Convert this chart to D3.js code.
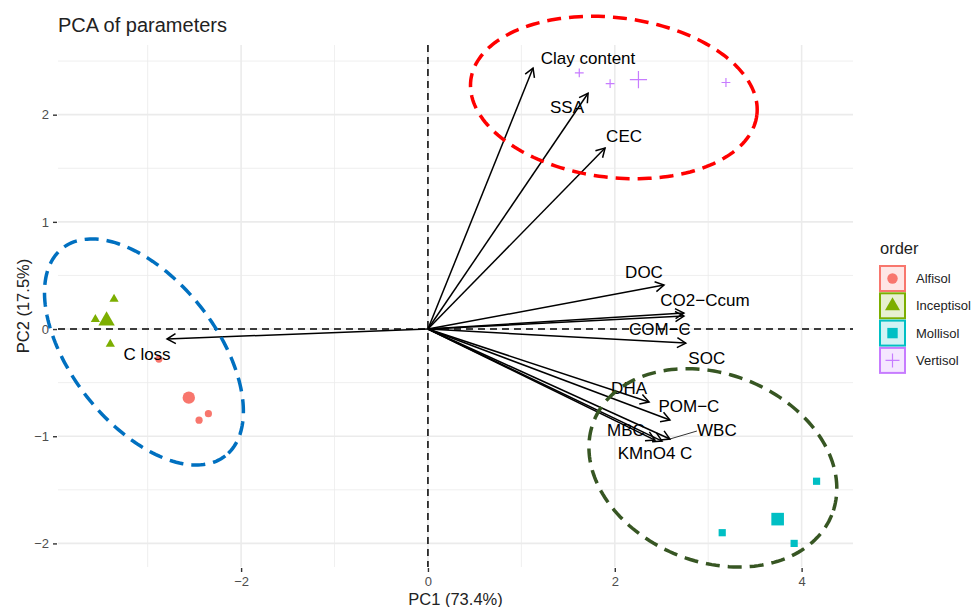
<!DOCTYPE html>
<html>
<head>
<meta charset="utf-8">
<script src="https://cdn.jsdelivr.net/npm/d3@7"></script>
<style>
  body { margin: 0; background: #fff; }
  text { font-family: "Liberation Sans", Arial, Helvetica, sans-serif; }
</style>
</head>
<body>
<svg id="chart" width="974" height="607"></svg>
<script>
// ---- soil orders ----
const orders = ["Alfisol", "Inceptisol", "Mollisol", "Vertisol"];
const orderColors = ["#F8766D", "#7CAE00", "#00BFC4", "#C77CFF"];

// ---- individual scores (PC1, PC2) ----
const sampleOrder = ["Alfisol", "Alfisol", "Alfisol",
                     "Inceptisol", "Inceptisol", "Inceptisol",
                     "Mollisol", "Mollisol", "Mollisol",
                     "Vertisol", "Vertisol", "Vertisol"];
const samplePC1 = [-2.88, -2.35, -2.45, -3.36, -3.56, -3.40, 4.16, 3.15, 3.92, 1.62, 1.95, 3.19];
const samplePC2 = [-0.28, -0.79, -0.85, 0.28, 0.09, -0.14, -1.42, -1.90, -2.00, 2.39, 2.29, 2.30];

// ---- variable loadings (arrow tips) ----
const varNames = ["Clay content", "SSA", "CEC", "DOC", "CO2\u2212Ccum", "COM\u2212C", "SOC",
                  "DHA", "POM\u2212C", "MBC", "WBC", "KMnO4 C", "C loss"];
const varPC1 = [1.125, 1.714, 1.896, 2.527, 2.74, 2.74, 2.76, 2.367, 2.59, 2.43, 2.59, 2.506, -2.793];
const varPC2 = [2.435, 2.20, 1.689, 0.41, 0.149, 0.121, -0.131, -0.681, -0.849, -1.036, -1.026, -1.045, -0.093];

// ---- axes ----
const xTicks = [-2, 0, 2, 4];
const yTicks = [-2, -1, 0, 1, 2];
const xMinor = [-3, -1, 1, 3];
const yMinor = [-1.5, -0.5, 0.5, 1.5, 2.5];
const xLabel = "PC1 (73.4%)";
const yLabel = "PC2 (17.5%)";
const chartTitle = "PCA of parameters";
const legendTitle = "order";

// ---- highlighted clusters (centre and two half-axis vectors, in PC units) ----
const clusterColors = ["#FF0000", "#0070C0", "#375623"];
const clusterCentres = [[1.99, 2.16], [-3.04, -0.214], [3.05, -1.295]];
const clusterAxisU = [[1.531, -0.163], [0.871, -0.969], [1.272, -0.441]];
const clusterAxisV = [[-0.104, -0.740], [-0.612, -0.416], [-0.377, -0.813]];

// label placement (pixel offsets from the arrow tip, repelled layout)
const labelOffsets = {
  "Clay content": [55, -10], "SSA": [-21, 14], "CEC": [19, -12], "DOC": [-20, -13],
  "CO2\u2212Ccum": [21, -13], "COM\u2212C": [-24, 13], "SOC": [21, 15], "DHA": [-20, -14],
  "POM\u2212C": [19, -14], "MBC": [-29, -10], "WBC": [47, -9], "KMnO4 C": [-7, 12],
  "C loss": [-20, 15]
};
const leaderLines = { "WBC": [27, -8] };

// ---------------------------------------------------------------
const svg = d3.select("#chart");
const panel = { left: 58, right: 853, top: 45, bottom: 567 };

const x = d3.scaleLinear().domain([-3.96, 4.55]).range([panel.left, panel.right]);
const y = d3.scaleLinear().domain([-2.22, 2.65]).range([panel.bottom, panel.top]);
const color = d3.scaleOrdinal().domain(orders).range(orderColors);

// grid
const grid = svg.append("g");
grid.selectAll(".vminor").data(xMinor).join("line")
  .attr("x1", d => x(d)).attr("x2", d => x(d)).attr("y1", panel.top).attr("y2", panel.bottom)
  .attr("stroke", "#ebebeb").attr("stroke-width", 0.8);
grid.selectAll(".hminor").data(yMinor).join("line")
  .attr("y1", d => y(d)).attr("y2", d => y(d)).attr("x1", panel.left).attr("x2", panel.right)
  .attr("stroke", "#ebebeb").attr("stroke-width", 0.8);
grid.selectAll(".vmajor").data(xTicks).join("line")
  .attr("x1", d => x(d)).attr("x2", d => x(d)).attr("y1", panel.top).attr("y2", panel.bottom)
  .attr("stroke", "#ebebeb").attr("stroke-width", 1.6);
grid.selectAll(".hmajor").data(yTicks).join("line")
  .attr("y1", d => y(d)).attr("y2", d => y(d)).attr("x1", panel.left).attr("x2", panel.right)
  .attr("stroke", "#ebebeb").attr("stroke-width", 1.6);

// axes
const fmt = d3.format("d");
const xAxis = d3.axisBottom(x).tickValues(xTicks).tickFormat(fmt).tickSizeOuter(0).tickSize(4).tickPadding(5);
const yAxis = d3.axisLeft(y).tickValues(yTicks).tickFormat(fmt).tickSizeOuter(0).tickSize(4).tickPadding(4);
const gx = svg.append("g").attr("transform", `translate(0,${panel.bottom + 1})`).call(xAxis);
const gy = svg.append("g").attr("transform", `translate(${panel.left - 1},0)`).call(yAxis);
[gx, gy].forEach(g => {
  g.select(".domain").remove();
  g.selectAll(".tick line").attr("stroke", "#333").attr("stroke-width", 1.4);
  g.selectAll(".tick text").attr("fill", "#4d4d4d").attr("font-size", 13)
    .attr("font-family", "Liberation Sans, Arial, sans-serif");
});

// reference lines through the origin
svg.append("line")
  .attr("x1", x(0)).attr("x2", x(0)).attr("y1", panel.top).attr("y2", panel.bottom)
  .attr("stroke", "#000").attr("stroke-width", 1.5).attr("stroke-dasharray", "7,5");
svg.append("line")
  .attr("x1", panel.left).attr("x2", panel.right).attr("y1", y(0)).attr("y2", y(0))
  .attr("stroke", "#000").attr("stroke-width", 1.5).attr("stroke-dasharray", "7,5");

// individuals
const samples = sampleOrder.map((o, i) => ({ order: o, pc1: samplePC1[i], pc2: samplePC2[i] }));
const means = orders.map(o => {
  const s = samples.filter(d => d.order === o);
  return { order: o, pc1: d3.mean(s, d => d.pc1), pc2: d3.mean(s, d => d.pc2), mean: true };
});

function drawShape(g, order, size) {
  const c = color(order);
  if (order === "Vertisol") {
    const h = size;
    g.append("path").attr("d", `M${-h},0H${h}M0,${-h}V${h}`)
      .attr("stroke", c).attr("stroke-width", 1.2).attr("fill", "none");
  } else {
    const type = order === "Alfisol" ? d3.symbolCircle
      : order === "Inceptisol" ? d3.symbolTriangle : d3.symbolSquare;
    let area;
    if (order === "Alfisol") area = Math.PI * size * size;
    else if (order === "Inceptisol") area = (2 * size) * (2 * size) * Math.sqrt(3) / 4;
    else area = (2 * size) * (2 * size);
    g.append("path").attr("d", d3.symbol().type(type).size(area)()).attr("fill", c);
  }
}
const smallSize = { Alfisol: 3.6, Inceptisol: 4.6, Mollisol: 3.6, Vertisol: 4.4 };
const bigSize = { Alfisol: 6.2, Inceptisol: 8.2, Mollisol: 6.3, Vertisol: 8.6 };

const pts = svg.append("g");
samples.concat(means).forEach(d => {
  const g = pts.append("g").attr("transform", `translate(${x(d.pc1)},${y(d.pc2)})`);
  drawShape(g, d.order, d.mean ? bigSize[d.order] : smallSize[d.order]);
});

// variable arrows
const vars = varNames.map((n, i) => ({ name: n, pc1: varPC1[i], pc2: varPC2[i] }));
const arrows = svg.append("g");
vars.forEach(d => {
  const x0 = x(0), y0 = y(0), x1 = x(d.pc1), y1 = y(d.pc2);
  arrows.append("line").attr("x1", x0).attr("y1", y0).attr("x2", x1).attr("y2", y1)
    .attr("stroke", "#000").attr("stroke-width", 1.5);
  const ang = Math.atan2(y1 - y0, x1 - x0);
  const L = 10, spread = Math.PI / 6;
  const ax = x1 - L * Math.cos(ang - spread), ay = y1 - L * Math.sin(ang - spread);
  const bx = x1 - L * Math.cos(ang + spread), by = y1 - L * Math.sin(ang + spread);
  arrows.append("path").attr("d", `M${ax},${ay}L${x1},${y1}L${bx},${by}`)
    .attr("stroke", "#000").attr("stroke-width", 1.5).attr("fill", "none");
});

// variable labels
const labels = svg.append("g");
vars.forEach(d => {
  const tx = x(d.pc1), ty = y(d.pc2);
  const off = labelOffsets[d.name];
  if (leaderLines[d.name]) {
    const l = leaderLines[d.name];
    labels.append("line").attr("x1", tx).attr("y1", ty).attr("x2", tx + l[0]).attr("y2", ty + l[1])
      .attr("stroke", "#000").attr("stroke-width", 0.8);
  }
  labels.append("text").attr("x", tx + off[0]).attr("y", ty + off[1]).attr("dy", "0.36em")
    .attr("text-anchor", "middle").attr("font-size", 17).attr("fill", "#000").text(d.name);
});

// cluster outlines
const ell = svg.append("g");
clusterCentres.forEach((c, i) => {
  const u = clusterAxisU[i], v = clusterAxisV[i];
  const ts = d3.range(0, 2 * Math.PI + 0.001, Math.PI / 90);
  const line = d3.line().x(t => x(c[0] + u[0] * Math.cos(t) + v[0] * Math.sin(t)))
                        .y(t => y(c[1] + u[1] * Math.cos(t) + v[1] * Math.sin(t)))
                        .curve(d3.curveLinearClosed);
  ell.append("path").attr("d", line(ts)).attr("fill", "none")
    .attr("stroke", clusterColors[i]).attr("stroke-width", 3.5).attr("stroke-dasharray", "14,8");
});

// title and axis titles
svg.append("text").attr("x", 58).attr("y", 32).attr("font-size", 20).attr("fill", "#222").text(chartTitle);
svg.append("text").attr("x", (panel.left + panel.right) / 2).attr("y", 605)
  .attr("text-anchor", "middle").attr("font-size", 16.5).attr("fill", "#222").text(xLabel);
svg.append("text").attr("transform", `translate(29,${(panel.top + panel.bottom) / 2}) rotate(-90)`)
  .attr("text-anchor", "middle").attr("font-size", 16.5).attr("fill", "#222").text(yLabel);

// legend
const legend = svg.append("g").attr("transform", "translate(866,0)");
legend.append("text").attr("x", 14).attr("y", 254).attr("font-size", 16.5).attr("fill", "#222").text(legendTitle);
orders.forEach((o, i) => {
  const ky = 266 + i * 27.3;
  const g = legend.append("g");
  g.append("rect").attr("x", 14).attr("y", ky).attr("width", 25).attr("height", 25)
    .attr("fill", color(o)).attr("fill-opacity", 0.18)
    .attr("stroke", color(o)).attr("stroke-width", 2);
  const s = g.append("g").attr("transform", `translate(${14 + 12.5},${ky + 12.5})`);
  drawShape(s, o, o === "Vertisol" ? 7 : o === "Inceptisol" ? 7.5 : 5.2);
  g.append("text").attr("x", 50).attr("y", ky + 12.5).attr("dy", "0.36em")
    .attr("font-size", 13).attr("fill", "#222").text(o);
});
</script>
</body>
</html>
